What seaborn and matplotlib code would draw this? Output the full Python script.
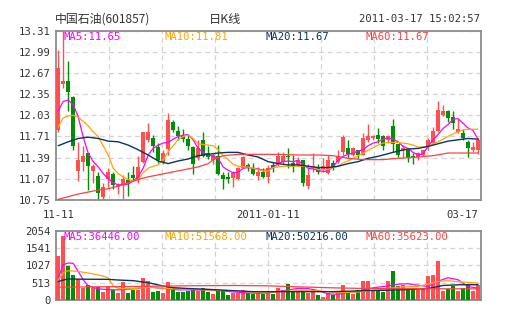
import numpy as np
import pandas as pd
import matplotlib
matplotlib.use("Agg")
import matplotlib.pyplot as plt
from matplotlib.ticker import FixedLocator
import seaborn as sns

# ---- daily K-line data, 2010-11-11 .. 2011-03-17 ----
opens = [11.81, 12.51, 12.55, 12.30, 11.19, 11.33, 11.46, 11.19, 11.11, 10.79,
         11.06, 11.14, 10.94, 10.97, 11.05, 11.13, 11.05, 11.33, 11.66, 11.69,
         11.55, 11.33, 11.52, 11.93, 11.80, 11.71, 11.67, 11.55, 11.38, 11.66,
         11.46, 11.36, 11.42, 11.13, 11.09, 11.08, 11.06, 11.24, 11.28, 11.23,
         11.11, 11.18, 11.10, 11.28, 11.29, 11.33, 11.41, 11.31, 11.28, 11.35,
         10.96, 11.23, 11.25, 11.21, 11.16, 11.31, 11.33, 11.48, 11.53, 11.43,
         11.51, 11.43, 11.65, 11.69, 11.73, 11.72, 11.66, 11.87, 11.59, 11.51,
         11.51, 11.42, 11.40, 11.43, 11.56, 11.61, 11.80, 12.04, 12.09, 12.00,
         11.78, 11.77, 11.63, 11.50, 11.50]
closes = [12.74, 12.55, 12.38, 11.56, 11.35, 11.41, 11.27, 11.26, 10.85, 10.95,
          11.18, 10.97, 10.98, 11.06, 11.01, 11.08, 11.25, 11.78, 11.78, 11.56,
          11.36, 11.46, 11.96, 11.81, 11.71, 11.67, 11.56, 11.30, 11.53, 11.42,
          11.40, 11.43, 11.15, 11.06, 11.06, 11.16, 11.23, 11.40, 11.24, 11.14,
          11.18, 11.10, 11.24, 11.23, 11.41, 11.42, 11.40, 11.26, 11.36, 11.00,
          11.13, 11.26, 11.18, 11.26, 11.36, 11.25, 11.42, 11.70, 11.45, 11.53,
          11.43, 11.69, 11.72, 11.71, 11.67, 11.57, 11.72, 11.60, 11.43, 11.54,
          11.40, 11.40, 11.46, 11.50, 11.66, 11.80, 12.11, 12.09, 11.99, 11.92,
          11.83, 11.68, 11.53, 11.55, 11.65]
highs = [13.02, 13.31, 12.85, 12.32, 11.63, 11.56, 11.46, 11.30, 11.18, 11.01,
         11.24, 11.18, 11.01, 11.13, 11.18, 11.27, 11.41, 11.78, 11.91, 11.74,
         11.61, 11.51, 12.06, 11.96, 11.87, 11.83, 11.73, 11.56, 11.66, 11.78,
         11.56, 11.46, 11.58, 11.18, 11.18, 11.19, 11.25, 11.42, 11.31, 11.31,
         11.25, 11.23, 11.28, 11.33, 11.48, 11.48, 11.53, 11.43, 11.40, 11.35,
         11.30, 11.46, 11.29, 11.38, 11.43, 11.35, 11.50, 11.74, 11.66, 11.55,
         11.51, 11.76, 11.90, 11.74, 11.84, 11.74, 11.74, 11.97, 11.60, 11.58,
         11.53, 11.46, 11.48, 11.51, 11.68, 11.85, 12.25, 12.18, 12.11, 12.09,
         11.98, 11.82, 11.66, 11.62, 11.68]
lows = [11.78, 12.44, 12.10, 11.50, 11.03, 11.19, 10.90, 11.00, 10.75, 10.75,
        10.95, 10.91, 10.84, 10.77, 10.81, 11.03, 11.01, 11.31, 11.63, 11.47,
        11.31, 11.30, 11.43, 11.78, 11.66, 11.63, 11.51, 11.15, 11.35, 11.40,
        11.37, 11.30, 11.13, 10.91, 11.01, 10.95, 11.05, 11.23, 11.19, 11.13,
        11.05, 11.08, 11.01, 11.18, 11.26, 11.30, 11.23, 11.18, 11.26, 10.96,
        10.91, 11.18, 11.15, 11.18, 11.15, 11.20, 11.31, 11.43, 11.38, 11.41,
        11.38, 11.43, 11.63, 11.66, 11.61, 11.51, 11.61, 11.47, 11.40, 11.38,
        11.33, 11.30, 11.36, 11.41, 11.51, 11.60, 11.78, 12.02, 11.93, 11.82,
        11.77, 11.66, 11.40, 11.47, 11.45]
volumes = [1313, 1906, 1017, 745, 622, 355, 454, 355, 375, 237,
           405, 306, 207, 533, 207, 306, 306, 652, 553, 237,
           276, 207, 533, 306, 237, 237, 257, 335, 257, 355,
           237, 178, 286, 276, 158, 207, 207, 306, 207, 178,
           207, 178, 207, 187, 355, 306, 474, 237, 306, 237,
           198, 296, 148, 99, 198, 148, 276, 444, 198, 178,
           296, 553, 573, 306, 276, 237, 553, 849, 405, 434,
           306, 335, 306, 335, 701, 750, 1145, 257, 335, 405,
           276, 355, 434, 276, 434]

# moving-average curves of the price panel
ma5_price = [12.10, 12.24, 12.26, 12.19, 12.01, 11.70, 11.46, 11.33, 11.25, 11.15,
             11.07, 11.01, 10.98, 10.98, 10.99, 11.04, 11.10, 11.23, 11.43, 11.53,
             11.58, 11.61, 11.62, 11.67, 11.71, 11.73, 11.74, 11.66, 11.53, 11.47,
             11.43, 11.41, 11.38, 11.25, 11.20, 11.16, 11.17, 11.23, 11.24, 11.23,
             11.22, 11.20, 11.20, 11.24, 11.30, 11.33, 11.34, 11.33, 11.35, 11.28,
             11.23, 11.22, 11.20, 11.18, 11.19, 11.25, 11.35, 11.41, 11.44, 11.46,
             11.49, 11.51, 11.57, 11.61, 11.63, 11.67, 11.69, 11.67, 11.63, 11.56,
             11.53, 11.47, 11.43, 11.45, 11.56, 11.66, 11.74, 11.83, 11.89, 11.97,
             11.98, 11.91, 11.84, 11.80, 11.67]
ma10_price = [11.85, 11.99, 12.02, 12.03, 12.00, 11.94, 11.87, 11.78, 11.71, 11.57,
              11.43, 11.23, 11.15, 11.10, 11.06, 11.04, 11.06, 11.16, 11.23, 11.26,
              11.28, 11.36, 11.48, 11.57, 11.66, 11.71, 11.73, 11.68, 11.60, 11.59,
              11.58, 11.57, 11.51, 11.42, 11.36, 11.29, 11.26, 11.25, 11.25, 11.23,
              11.21, 11.19, 11.19, 11.24, 11.25, 11.26, 11.26, 11.26, 11.26, 11.26,
              11.25, 11.25, 11.21, 11.21, 11.21, 11.24, 11.26, 11.31, 11.34, 11.38,
              11.42, 11.46, 11.50, 11.54, 11.58, 11.61, 11.62, 11.62, 11.62, 11.61,
              11.60, 11.58, 11.55, 11.55, 11.56, 11.60, 11.63, 11.67, 11.71, 11.75,
              11.78, 11.81, 11.82, 11.82, 11.82]
ma20_days = [0, 2, 4, 6, 8, 10, 12, 14, 16, 18, 20, 22, 24, 26, 28, 30, 32, 34, 36,
             38, 40, 42, 44, 46, 48, 50, 52, 54, 56, 58, 60, 62, 64, 66, 68, 70, 72,
             74, 76, 78, 80, 82, 84]
ma20_price = [11.57, 11.63, 11.68, 11.70, 11.68, 11.64, 11.63, 11.58, 11.51, 11.43,
              11.34, 11.30, 11.34, 11.37, 11.42, 11.44, 11.46, 11.47, 11.47, 11.43,
              11.40, 11.33, 11.30, 11.28, 11.28, 11.26, 11.24, 11.24, 11.26, 11.30,
              11.33, 11.38, 11.41, 11.45, 11.49, 11.52, 11.53, 11.56, 11.60, 11.64,
              11.66, 11.68, 11.67]
ma60_days = [0, 2, 4, 6, 8, 10, 12, 14, 16, 18, 20, 22, 24, 26, 28, 30, 31, 33, 36,
             40, 44, 48, 52, 55, 58, 61, 65, 68, 72, 75, 78, 84]
ma60_price = [10.76, 10.80, 10.84, 10.87, 10.90, 10.92, 10.96, 11.01, 11.06, 11.10,
              11.13, 11.16, 11.19, 11.22, 11.25, 11.30, 11.36, 11.42, 11.44, 11.44,
              11.44, 11.43, 11.43, 11.42, 11.38, 11.36, 11.36, 11.38, 11.40, 11.42,
              11.46, 11.46]

# moving-average curves of the volume panel
vma5_days = [0, 1, 2, 3, 4, 5, 6, 7, 8, 10, 12, 14, 16, 18, 20, 22, 24, 26, 28, 30,
             32, 34, 36, 38, 40, 42, 44, 46, 48, 50, 52, 54, 56, 58, 60, 62, 64, 66,
             68, 70, 72, 74, 76, 78, 80, 82, 84]
vma5_vol = [650, 1047, 1096, 1086, 850, 600, 420, 375, 330, 306, 300, 320, 340, 400,
            355, 330, 300, 300, 296, 296, 280, 250, 230, 210, 200, 210, 250, 300, 345,
            340, 280, 180, 170, 220, 250, 340, 380, 420, 470, 480, 440, 400, 560, 660,
            600, 400, 350]
vma10_days = [0, 1, 2, 4, 6, 7, 9, 10, 11, 12, 14, 16, 18, 20, 22, 24, 26, 28, 30,
              32, 34, 36, 38, 40, 44, 48, 52, 56, 60, 64, 68, 72, 75, 76, 78, 80, 84]
vma10_vol = [590, 810, 869, 845, 800, 770, 711, 650, 420, 345, 330, 350, 375, 360,
             345, 330, 320, 310, 300, 290, 280, 270, 245, 230, 240, 280, 270, 220,
             240, 300, 380, 405, 503, 553, 573, 540, 503]
vma20_days = [0, 1, 2, 6, 10, 12, 15, 18, 21, 23, 26, 30, 35, 39, 45, 55, 62, 66,
              70, 74, 77, 80, 84]
vma20_vol = [543, 592, 622, 615, 612, 592, 573, 513, 415, 365, 340, 316, 276, 247,
             247, 247, 280, 290, 310, 340, 430, 450, 454]
vma60_days = [0, 15, 25, 35, 42, 48, 55, 62, 70, 84]
vma60_vol = [380, 400, 420, 430, 420, 390, 360, 340, 335, 330]

# axis ticks and text
price_ticks = [10.75, 11.07, 11.39, 11.71, 12.03, 12.35, 12.67, 12.99, 13.31]
vol_ticks = [0, 513, 1027, 1541, 2054]
date_tick_days = [0, 42, 84]
date_tick_labels = ["11-11", "2011-01-11", "03-17"]
price_ma_text = ["MA5:11.65", "MA10:11.81", "MA20:11.67", "MA60:11.67"]
vol_ma_text = ["MA5:36446.00", "MA10:51568.00", "MA20:50216.00", "MA60:35623.00"]

UP = "#ff4f4f"
DOWN = "#008f00"
MA_COLORS = ["#ff00ff", "#ffa500", "#0b3461", "#ff4040"]
FRAME = "#8c8c8c"
GRID = "#d4d4d4"
TXT = "#333333"
MONO = "DejaVu Sans Mono"

sns.set_style("white")
plt.rcParams["font.family"] = ["Noto Sans CJK SC", "DejaVu Sans"]

df = pd.DataFrame({"day": np.arange(len(opens)), "open": opens, "close": closes,
                   "high": highs, "low": lows, "volume": volumes})
df["color"] = np.where(df["close"] >= df["open"], UP, DOWN)

fig = plt.figure(figsize=(5.05, 3.30), dpi=100)
ax = fig.add_axes([0.1103, 0.394, 0.8412, 0.513])
axv = fig.add_axes([0.1103, 0.0909, 0.8412, 0.2101])

n = len(df)
col_edges = np.linspace(-0.5, n - 0.5, 9)[1:-1]


def style_panel(a, yticks, ylim):
    a.set_xlim(-0.5, n - 0.5)
    a.set_ylim(*ylim)
    a.set_yticks(yticks)
    a.xaxis.set_minor_locator(FixedLocator(col_edges))
    a.grid(True, axis="y", which="major", color=GRID, ls=(0, (4, 3)), lw=0.9)
    a.grid(True, axis="x", which="minor", color=GRID, ls=(0, (4, 3)), lw=0.9)
    a.grid(False, axis="x", which="major")
    for s in a.spines.values():
        s.set_color(FRAME)
        s.set_linewidth(1.3)
    a.tick_params(axis="both", which="both", length=0, colors=TXT,
                  labelsize=7.6, pad=3.5)
    for lbl in a.get_yticklabels():
        lbl.set_fontfamily(MONO)
    a.set_axisbelow(True)


# price panel: wicks, bodies, moving averages
ax.vlines(df["day"], df["low"], df["high"], colors=df["color"], lw=1.0, zorder=2)
body_lo = np.minimum(df["open"], df["close"])
body_h = np.maximum(np.abs(df["close"] - df["open"]), 0.012)
ax.bar(df["day"], body_h, bottom=body_lo, width=0.8, color=df["color"],
       linewidth=0, zorder=3)

sns.lineplot(x=df["day"], y=ma5_price, ax=ax, color=MA_COLORS[0], lw=0.9, zorder=4)
sns.lineplot(x=df["day"], y=ma10_price, ax=ax, color=MA_COLORS[1], lw=0.9, zorder=4)
sns.lineplot(x=ma20_days, y=ma20_price, ax=ax, color=MA_COLORS[2], lw=1.0, zorder=4)
sns.lineplot(x=ma60_days, y=ma60_price, ax=ax, color=MA_COLORS[3], lw=0.9, zorder=4)

style_panel(ax, price_ticks, (price_ticks[0], price_ticks[-1]))
ax.set_yticklabels([f"{v:.2f}" for v in price_ticks])
ax.set_xticks(date_tick_days)
ax.set_xticklabels(date_tick_labels, fontfamily=MONO)
ax.tick_params(axis="x", pad=7)
ax.get_xticklabels()[-1].set_horizontalalignment("right")
ax.get_xticklabels()[-1].set_x(n - 0.5)
ax.set_xlabel("")
ax.set_ylabel("")

# volume panel
axv.bar(df["day"], df["volume"], width=0.8, color=df["color"], linewidth=0, zorder=3)
sns.lineplot(x=vma5_days, y=vma5_vol, ax=axv, color=MA_COLORS[0], lw=0.9, zorder=4)
sns.lineplot(x=vma10_days, y=vma10_vol, ax=axv, color=MA_COLORS[1], lw=0.9, zorder=4)
sns.lineplot(x=vma20_days, y=vma20_vol, ax=axv, color=MA_COLORS[2], lw=1.0, zorder=4)
sns.lineplot(x=vma60_days, y=vma60_vol, ax=axv, color=MA_COLORS[3], lw=0.9, zorder=4)
style_panel(axv, vol_ticks, (0, vol_ticks[-1]))
axv.set_yticklabels([str(v) for v in vol_ticks])
axv.set_xticks([])
axv.set_xlabel("")
axv.set_ylabel("")

# moving-average legends inside each panel
for k, (t1, t2) in enumerate(zip(price_ma_text, vol_ma_text)):
    xfig = (64 + 100.5 * k) / 505
    fig.text(xfig, 1 - 37 / 330, t1, color=MA_COLORS[k], fontsize=7.6,
             family=MONO, va="center", ha="left")
    fig.text(xfig, 1 - 237 / 330, t2, color=MA_COLORS[k], fontsize=7.6,
             family=MONO, va="center", ha="left")

# header line
fig.text(55 / 505, 1 - 19.5 / 330, "中国石油(601857)", color=TXT, fontsize=8.6,
         family=["Noto Sans CJK SC", "DejaVu Sans"], va="center", ha="left")
fig.text(225 / 505, 1 - 19.5 / 330, "日K线", color=TXT, fontsize=8.8,
         family=["Noto Sans CJK SC", "DejaVu Sans"], va="center", ha="center")
fig.text(480 / 505, 1 - 19.5 / 330, "2011-03-17 15:02:57", color=TXT, fontsize=7.6,
         family=MONO, va="center", ha="right")

fig.savefig("out.png", dpi=100, facecolor="white")
